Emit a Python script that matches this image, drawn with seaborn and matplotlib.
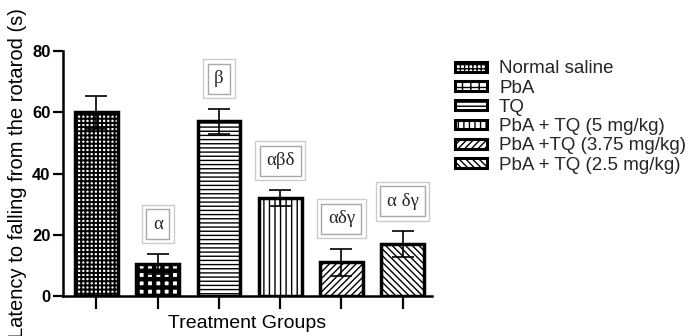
import numpy as np
import pandas as pd
import matplotlib
matplotlib.use("Agg")
import matplotlib.pyplot as plt
import seaborn as sns
from matplotlib.patches import Patch

# ---- data ----
groups = ["Normal saline", "PbA", "TQ", "PbA + TQ (5 mg/kg)",
          "PbA +TQ (3.75 mg/kg)", "PbA + TQ (2.5 mg/kg)"]
means = [60, 10.5, 57, 32, 11, 17]
sems = [5.4, 3.3, 4.2, 2.5, 4.5, 4.2]
sig_labels = ["", "α", "β", "αβδ", "αδγ", "α δγ"]
y_ticks = [0, 20, 40, 60, 80]

# ---- style ----
sns.set_theme(style="ticks")
plt.rcParams["font.family"] = ["Liberation Sans", "DejaVu Sans"]
plt.rcParams["hatch.linewidth"] = 1.0
plt.rcParams["hatch.color"] = "black"

hatches = ["++++", "++", "----", "|||", "/////", "\\\\\\\\\\"]
hatch_lw = [1.4, 3.2, 1.0, 1.0, 1.0, 1.0]

fig = plt.figure(figsize=(7, 3.36), dpi=100)
ax = fig.add_axes([63 / 700, 40 / 336, (432 - 63) / 700, (296 - 51) / 336])

df = pd.DataFrame({"group": groups, "mean": means})
sns.barplot(data=df, x="group", y="mean", color="white", saturation=1,
            edgecolor="black", linewidth=2.5, width=0.7, errorbar=None, ax=ax)
for p, h, hl in zip(ax.patches, hatches, hatch_lw):
    p.set_hatch(h)
    p.set_facecolor("white")
    p.set_edgecolor("black")
    if hasattr(p, "set_hatch_linewidth"):
        p.set_hatch_linewidth(hl)

ax.errorbar(x=np.arange(len(groups)), y=means, yerr=sems, fmt="none",
            ecolor="black", elinewidth=1.2, capsize=8, capthick=1.2, zorder=5)

for i, lab in enumerate(sig_labels):
    if not lab:
        continue
    y = means[i] + sems[i] + 9.7
    ax.text(i, y, lab, ha="center", va="center", fontsize=13.5,
            family=["Liberation Serif", "DejaVu Serif"], zorder=6,
            bbox=dict(boxstyle="square,pad=0.34", fc="white", ec="#a8a8a8", lw=1))
    ax.text(i, y, lab, ha="center", va="center", fontsize=13.5, color="none",
            family=["Liberation Serif", "DejaVu Serif"], zorder=6,
            bbox=dict(boxstyle="square,pad=0.58", fc="none", ec="#cccccc", lw=1))

ax.set_xlim(-0.547, 5.48)
ax.set_ylim(0, 80)
ax.set_yticks(y_ticks)
ax.set_yticklabels([str(t) for t in y_ticks], fontweight="bold")
sns.despine(ax=ax)
for s in ["left", "bottom"]:
    ax.spines[s].set_linewidth(1.8)
    ax.spines[s].set_color("black")
ax.tick_params(axis="y", width=1.6, length=7, labelsize=12, pad=2, colors="black")
ax.tick_params(axis="x", width=1.6, length=9, labelbottom=False, colors="black")
ax.set_ylabel("Latency to falling from the rotarod (s)", fontsize=14.5, labelpad=4, color="black")
ax.set_xlabel("Treatment Groups", fontsize=14, labelpad=5, color="black")

handles = [Patch(facecolor="white", edgecolor="black", hatch=h, linewidth=2.2)
           for h in hatches]
fig.legend(handles, groups, loc="upper left", bbox_to_anchor=(0.65, 0.82),
           frameon=False, fontsize=13.5, handlelength=1.7, handleheight=0.42,
           handletextpad=0.65, labelspacing=0.12, borderaxespad=0, borderpad=0)

fig.savefig("out.png", dpi=100)
